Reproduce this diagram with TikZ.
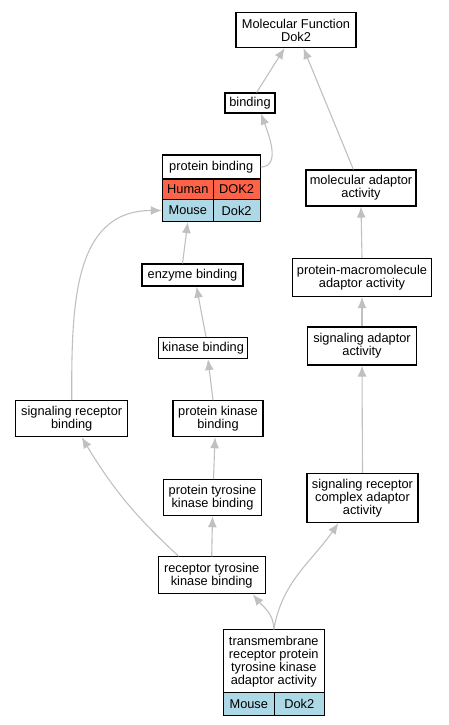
\documentclass[tikz,border=0pt]{standalone}
\usepackage{fontspec}
\setmainfont{Liberation Sans}
\usetikzlibrary{arrows.meta}
\definecolor{rouge}{HTML}{FF6347}
\definecolor{bleu}{HTML}{ADD8E6}
\definecolor{gris}{HTML}{C0C0C0}
\begin{document}
\begin{tikzpicture}[x=1pt,y=-1pt]
			\tikzstyle{boite}=[draw=black,line width=1.1pt,fill=white,inner sep=0pt,align=center,font=\fontsize{12.8}{13.1}\selectfont]
			\tikzstyle{cellule}=[boite,fill=bleu]
			\tikzstyle{fleche}=[draw=gris,line width=1.1pt,-{Latex[length=11pt,width=9pt]}]
			\useasboundingbox (0,0) rectangle (449,725);
			% colonne de gauche
			\node[boite,minimum width=120pt,minimum height=35pt] (MF) at (296,30) {Molecular Function\\Dok2};
			\node[boite,minimum width=50pt,minimum height=20pt] (bind) at (250,103) {binding};
			\node[boite,minimum width=98pt,minimum height=24pt] (pbHead) at (211.2,167) {protein binding};
			\node[cellule,fill=rouge,minimum width=51pt,minimum height=21pt] (pbHuman) at (187.8,189.5) {Human};
			\node[cellule,fill=rouge,minimum width=47pt,minimum height=21pt] (pbHumanId) at (236.6,189.5) {DOK2};
			\node[cellule,minimum width=51pt,minimum height=22pt] (pbMouse) at (187.8,210.5) {Mouse};
			\node[cellule,minimum width=47pt,minimum height=22pt] (pbMouseId) at (236.6,210.5) {Dok2};
			\node[boite,minimum width=101pt,minimum height=22pt] (enz) at (192.5,275) {enzyme binding};
			\node[boite,minimum width=89pt,minimum height=21pt] (kin) at (203,348) {kinase binding};
			\node[boite,minimum width=90pt,minimum height=36pt] (pk) at (218,418.7) {protein kinase\\binding};
			\node[boite,minimum width=112pt,minimum height=36pt] (srb) at (71.7,418.7) {signaling receptor\\binding};
			\node[boite,minimum width=98pt,minimum height=36pt] (ptk) at (212.5,497.7) {protein tyrosine\\kinase binding};
			\node[boite,minimum width=107pt,minimum height=37pt] (rtk) at (211.7,575.3) {receptor tyrosine\\kinase binding};
			% colonne de droite
			\node[boite,minimum width=110pt,minimum height=36pt] (ma) at (361,188) {molecular adaptor\\activity};
			\node[boite,minimum width=139pt,minimum height=38pt] (pm) at (362,277.5) {protein-macromolecule\\adaptor activity};
			\node[boite,minimum width=109pt,minimum height=38pt] (sa) at (362,346) {signaling adaptor\\activity};
			\node[boite,minimum width=111pt,minimum height=49pt] (src) at (362.5,498) {signaling receptor\\complex adaptor\\activity};
			% feuille
			\node[boite,minimum width=101pt,minimum height=63pt] (tm) at (273.8,661.4) {transmembrane\\receptor protein\\tyrosine kinase\\adaptor activity};
			\node[cellule,minimum width=51pt,minimum height=23pt] (tmMouse) at (248.8,704.3) {Mouse};
			\node[cellule,minimum width=50pt,minimum height=23pt] (tmMouseId) at (299.3,704.3) {Dok2};
			% liens
			\draw[fleche] (bind)--(MF) ;
			\draw[fleche] (ma)--(MF) ;
			\draw[fleche] (pbHead.east) to[out=0,in=-70] ([xshift=11pt]bind.south) ;
			\draw[fleche] ([xshift=-10pt]enz.north)--(pbMouse.south) ;
			\draw[fleche] ([xshift=3pt]kin.north)--([xshift=4pt]enz.south) ;
			\draw[fleche] ([xshift=-5pt]pk.north)--([xshift=5pt]kin.south) ;
			\draw[fleche] ([xshift=1pt]ptk.north)--([xshift=-3pt]pk.south) ;
			\draw[fleche] (rtk.north)--(ptk.south) ;
			\draw[fleche] ([xshift=21pt]rtk.north west) to[bend left=8] ([xshift=10pt]srb.south) ;
			\draw[fleche] (srb.north) to[out=90,in=180,looseness=1.1] (pbMouse.west) ;
			\draw[fleche] (pm.north)--(ma.south) ;
			\draw[fleche] (sa.north)--(pm.south) ;
			\draw[fleche] (src.north)--(sa.south) ;
			\draw[fleche] (tm.north) to[out=90,in=-50] ([xshift=41pt]rtk.south) ;
			\draw[fleche] (tm.north) to[out=80,in=-125] ([xshift=-24pt]src.south) ;
\end{tikzpicture}
\end{document}
